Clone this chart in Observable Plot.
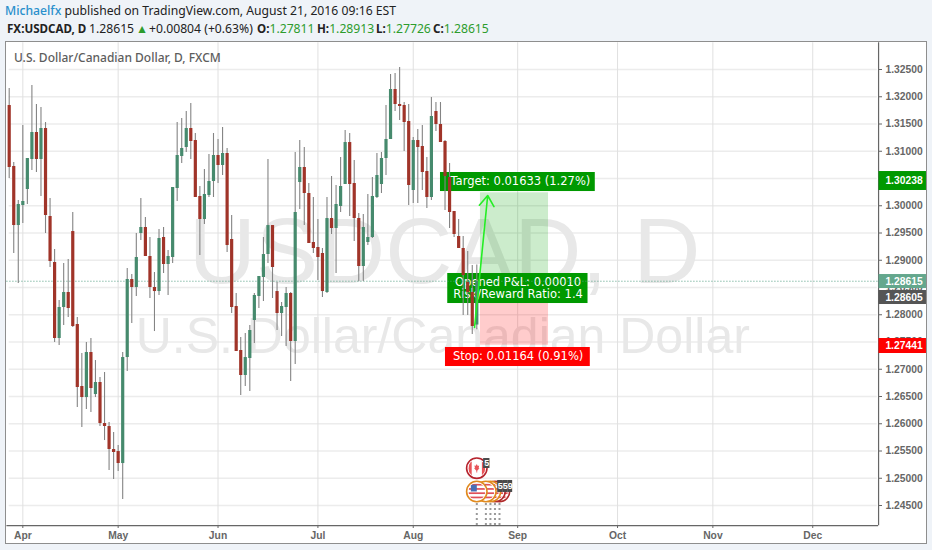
<!DOCTYPE html>
<html>
<head>
<meta charset="utf-8">
<script src="https://cdn.jsdelivr.net/npm/d3@7"></script>
<script src="https://cdn.jsdelivr.net/npm/@observablehq/plot@0.6"></script>
<style>
html,body{margin:0;padding:0;width:932px;height:550px;overflow:hidden;background:#eff3f8;font-family:"Noto Sans",sans-serif}
#panel{position:absolute;left:5px;top:41px;width:920px;height:501px;background:#fff;border:1.5px solid #8e8e8e;box-sizing:content-box}
#chart{position:absolute;left:0;top:0}
#chart svg{background:transparent!important}
.hd{position:absolute;white-space:nowrap;color:#222}
#l1{left:5px;top:1px;font-size:12.2px;line-height:20px}
#l1 b{font-weight:500;color:#2a90cc}
#l2 span{position:absolute;top:0;white-space:nowrap}
#l2{left:0;top:19px;font-size:12.2px;line-height:20px;width:900px;height:20px}
#l2 i{font-style:normal;color:#2d9c2d}
#l2 b{font-weight:700;font-size:11.6px}
#ttl{position:absolute;left:14px;top:49px;font-size:12px;line-height:18px;font-weight:500;color:#5d5d5d;white-space:nowrap}
</style>
</head>
<body>
<div id="panel"></div>
<div id="chart"></div>
<div class="hd" id="l1"><b>Michaelfx</b> published on TradingView.com, August 21, 2016 09:16 EST</div>
<div class="hd" id="l2">
<span style="left:7px"><b>FX:USDCAD, D</b></span>
<span style="left:89px">1.28615</span>
<span style="left:136px;color:#2d9c2d">▲</span>
<span style="left:149px">+0.00804 (+0.63%)</span>
<span style="left:257px"><b>O:</b><i>1.27811</i></span>
<span style="left:317px"><b>H:</b><i>1.28913</i></span>
<span style="left:376px"><b>L:</b><i>1.27726</i></span>
<span style="left:433px"><b>C:</b><i>1.28615</i></span>
</div>
<div id="ttl">U.S. Dollar/Canadian Dollar, D, FXCM</div>
<script>
const opens=[1.31839,1.30720,1.29637,1.30005,1.30298,1.30849,1.31344,1.30849,1.31417,1.29803,1.28959,1.27564,1.28133,1.28408,1.29527,1.27821,1.26683,1.26481,1.27307,1.26536,1.26757,1.26004,1.25949,1.25527,1.25490,1.25270,1.27215,1.28647,1.28500,1.29491,1.29601,1.29069,1.28500,1.28426,1.29417,1.28922,1.29050,1.30316,1.30904,1.31069,1.31417,1.31197,1.30170,1.29748,1.30188,1.30445,1.30922,1.30739,1.30959,1.29381,1.28151,1.27344,1.26885,1.27197,1.27894,1.28335,1.28683,1.29105,1.29637,1.28426,1.28023,1.28133,1.28390,1.27509,1.30426,1.30702,1.30225,1.29326,1.29234,1.29124,1.28408,1.29766,1.29583,1.29986,1.30390,1.31160,1.30408,1.29766,1.28885,1.29326,1.29417,1.30151,1.30390,1.30867,1.31216,1.32133,1.31858,1.31839,1.31546,1.30280,1.31197,1.31087,1.30629,1.30151,1.31729,1.31491,1.31179,1.30518,1.29894,1.29436,1.29216,1.28592,1.28408,1.27811];
const highs=[1.32151,1.30794,1.30096,1.31472,1.30867,1.32206,1.31858,1.31803,1.31527,1.30133,1.29197,1.28261,1.28940,1.29014,1.29876,1.27949,1.27289,1.27490,1.27564,1.27160,1.26848,1.26940,1.26023,1.25839,1.25600,1.27307,1.28848,1.28738,1.29491,1.30133,1.29784,1.29417,1.28775,1.29564,1.29601,1.29179,1.30335,1.31527,1.31601,1.31729,1.31876,1.31326,1.30353,1.30665,1.30940,1.31326,1.31216,1.31436,1.31050,1.29821,1.28390,1.27582,1.27656,1.27802,1.28390,1.28702,1.29417,1.30849,1.29637,1.28592,1.28225,1.28500,1.28408,1.30977,1.31197,1.31069,1.30408,1.30151,1.29748,1.29216,1.30151,1.30537,1.30371,1.30885,1.31381,1.31326,1.30830,1.29858,1.29839,1.30206,1.30518,1.30959,1.30977,1.31839,1.32408,1.32427,1.32537,1.31894,1.31858,1.31252,1.31399,1.31472,1.30885,1.31986,1.31894,1.31894,1.31197,1.30775,1.29894,1.29748,1.29436,1.29160,1.28904,1.28913];
const lows=[1.30500,1.29124,1.28573,1.29674,1.30023,1.30647,1.30610,1.30170,1.29491,1.28867,1.27490,1.27436,1.27802,1.27949,1.27766,1.26298,1.25931,1.26261,1.26206,1.26481,1.25949,1.25692,1.25142,1.24977,1.25123,1.24610,1.26959,1.27839,1.28335,1.29362,1.29069,1.28298,1.27692,1.28353,1.28757,1.28353,1.28940,1.30078,1.30775,1.30977,1.30849,1.30151,1.29087,1.29656,1.30151,1.30151,1.30408,1.30555,1.29142,1.28023,1.27326,1.26518,1.26683,1.26591,1.27472,1.28115,1.28243,1.28940,1.28298,1.27711,1.27601,1.27417,1.26775,1.27087,1.29931,1.29637,1.29307,1.29124,1.28628,1.28316,1.28390,1.29472,1.28757,1.29876,1.30390,1.29803,1.29344,1.28610,1.28610,1.29271,1.29399,1.30133,1.30225,1.30555,1.31216,1.31729,1.31564,1.30995,1.30005,1.30041,1.30041,1.30280,1.29950,1.30096,1.31362,1.31160,1.29913,1.29583,1.29417,1.29216,1.27986,1.27986,1.27637,1.27726];
const closes=[1.30702,1.29637,1.30023,1.30078,1.30867,1.31344,1.30849,1.31417,1.29821,1.28977,1.27564,1.28133,1.28408,1.28115,1.27784,1.26665,1.26481,1.27307,1.26646,1.26757,1.26004,1.25949,1.25527,1.25472,1.25270,1.27215,1.28647,1.28500,1.29050,1.29601,1.29069,1.28500,1.28426,1.29399,1.28922,1.29069,1.30335,1.30922,1.31050,1.31417,1.31179,1.30151,1.29748,1.30206,1.30445,1.30922,1.30739,1.30959,1.29271,1.28133,1.27326,1.26885,1.27215,1.27711,1.28353,1.28702,1.29105,1.29637,1.28867,1.28023,1.28151,1.28390,1.27509,1.29876,1.30702,1.30225,1.29307,1.29216,1.29050,1.28426,1.29766,1.29583,1.30023,1.30353,1.31160,1.30390,1.29766,1.28885,1.29601,1.29417,1.30170,1.30555,1.30867,1.31216,1.32133,1.31858,1.31821,1.31527,1.30371,1.31197,1.31069,1.30610,1.30151,1.31638,1.31491,1.31160,1.30537,1.29876,1.29472,1.29216,1.28720,1.28408,1.27784,1.28615];

const priceTicks=[1.245,1.25,1.255,1.26,1.265,1.27,1.275,1.28,1.285,1.29,1.295,1.30,1.305,1.31,1.315,1.32,1.325];
const monthBars=[3,24,46,68,89,112,134,155,177];
const monthLabels=["Apr","May","Jun","Jul","Aug","Sep","Oct","Nov","Dec"];

const bars=opens.map((o,i)=>({i,o,h:highs[i],l:lows[i],c:closes[i],up:closes[i]>=o}));

const RED="#a03429",GREEN="#468a6d",WICK="#848484";

const zones=[
 {x1:103.8,x2:118.8,y1:1.28605,y2:1.30238,fill:"#00a000"},
 {x1:103.8,x2:118.8,y1:1.27441,y2:1.28605,fill:"#ff0000"}
];
const labelBoxes=[
 {x1:95.0,x2:129.1,y1:1.30261,y2:1.30610,fill:"#009900"},
 {x1:96.6,x2:127.5,y1:1.28206,y2:1.28757,fill:"#009900"},
 {x1:96.1,x2:128.0,y1:1.27050,y2:1.27399,fill:"#ff0000"}
];
const labelTexts=[
 {x:112.6,y:1.30445,t:"Target: 0.01633 (1.27%)"},
 {x:112.1,y:1.28592,t:"Opened P&L: 0.00010"},
 {x:112.1,y:1.28371,t:"Risk/Reward Ratio: 1.4"},
 {x:112.1,y:1.27240,t:"Stop: 0.01164 (0.91%)"}
];
const arrowData=[{x1:102.5,y1:1.27766,x2:105.4,y2:1.30188}];
const tags=[
 {y1:1.30280,y2:1.30628,t:"1.30238",fill:"#009900",c:"#fff"},
 {y1:1.28481,y2:1.28738,t:"1.28615",fill:"#64a78d",c:"#fff"},
 {y1:1.28188,y2:1.28445,t:"1.28605",fill:"#555555",c:"#fff"},
 {y1:1.27289,y2:1.27564,t:"1.27441",fill:"#ff0000",c:"#fff"}
];
const watermark=[
 {x:95.9,y:1.29124,t:"USDCAD, D",size:93},
 {x:95.5,y:1.27600,t:"U.S. Dollar/Canadian Dollar",size:50}
];
const flagY=1.24757, canadaY=1.25184;
const events=[
 {x:108,stroke:"#b02a2a"},{x:107,stroke:"#b02a2a"},{x:106,stroke:"#e08a1e"},{x:105,stroke:"#e08a1e"},{x:103,stroke:"#e08a1e"}
];
const eventTags=[
 {x1:104.5,x2:105.9,y1:1.25179,y2:1.25362,t:"5"},
 {x1:109.8,x2:110.9,y1:1.24739,y2:1.24959,t:"9"},
 {x1:108.7,x2:109.8,y1:1.24739,y2:1.24959,t:"5"},
 {x1:107.6,x2:108.7,y1:1.24739,y2:1.24959,t:"5"}
];

const svgUri=s=>"data:image/svg+xml;utf8,"+encodeURIComponent(s);
const usFlag=svgUri('<svg xmlns="http://www.w3.org/2000/svg" viewBox="0 0 20 20"><rect width="20" height="20" fill="#fff"/><g fill="#e0505a"><rect y="1" width="20" height="2"/><rect y="6" width="20" height="2"/><rect y="11" width="20" height="2"/><rect y="16" width="20" height="2"/></g><rect x="3" y="2" width="7" height="8" fill="#4a6fb5"/></svg>');
const caFlag=svgUri('<svg xmlns="http://www.w3.org/2000/svg" viewBox="0 0 20 20"><rect width="20" height="20" fill="#fff"/><g fill="#e8555a"><rect width="4" height="20"/><rect x="16" width="4" height="20"/><path d="M10 5l1.2 2.4 1.6-.5-.6 3.1 1-.1L10.5 13v2h-1v-2L6.800 9.900l1-.1-.6-3.100 1.600.5z"/></g></svg>');

const flagMarks=events.flatMap(e=>[
 Plot.dot([e],{x:"x",y:()=>flagY,r:10.2,fill:"#fff",stroke:"stroke",strokeWidth:1.6}),
 Plot.image([e],{x:"x",y:()=>flagY,src:()=>usFlag,r:8.5})
]);

const plot=Plot.plot({
 width:932,height:550,
 marginTop:42,marginBottom:25,marginLeft:6,marginRight:54,
 x:{domain:[0,103],range:[8.7,476.3]},
 y:{domain:[1.245,1.325],range:[505,69]},
 style:{background:"transparent"},
 marks:[
  Plot.gridY(priceTicks,{stroke:"#ececec",strokeOpacity:1,strokeWidth:1.5,x1:0,x2:191.2}),
  Plot.gridX(monthBars,{stroke:"#e0e0e0",strokeOpacity:1,y1:1.2413,y2:1.3299}),
  Plot.text(watermark,{x:"x",y:"y",text:"t",fontSize:"size",fontFamily:"Liberation Sans",fill:"#e8e8e8",textAnchor:"middle",lineAnchor:"middle"}),
  Plot.axisY({anchor:"right",ticks:priceTicks,tickFormat:d=>d.toFixed(5),tickSize:3,tickPadding:4,label:null,fontSize:10.3,fontFamily:"Liberation Sans",fontWeight:"bold",color:"#666"}),
  Plot.axisX({anchor:"bottom",ticks:monthBars,tickFormat:d=>monthLabels[monthBars.indexOf(d)],tickSize:3,tickPadding:3,label:null,fontSize:10.3,fontFamily:"Liberation Sans",fontWeight:"bold",color:"#666"}),
  Plot.ruleX([191.5],{y1:1.2413,y2:1.3299,stroke:"#666",strokeWidth:1.2}),
  Plot.ruleY([1.2413],{x1:-0.5,x2:191.5,stroke:"#666",strokeWidth:1.2}),
  Plot.rect(zones,{x1:"x1",x2:"x2",y1:"y1",y2:"y2",fill:"fill",fillOpacity:0.2}),
  Plot.rect(labelBoxes,{x1:"x1",x2:"x2",y1:"y1",y2:"y2",fill:"fill"}),
  Plot.text(labelTexts,{x:"x",y:"y",text:"t",fill:"#fff",fontSize:11.5,fontFamily:"DejaVu Sans",textAnchor:"middle",lineAnchor:"middle"}),
  Plot.ruleY([1.28615],{x1:-0.5,x2:191.5,stroke:"#4f9c80",strokeWidth:1,strokeDasharray:"1 2"}),
  Plot.ruleX(bars,{x:"i",y1:"l",y2:"h",stroke:WICK,strokeWidth:1.1}),
  Plot.ruleX(bars,{x:"i",y1:"o",y2:"c",stroke:d=>d.up?GREEN:RED,strokeWidth:3.2}),
  Plot.arrow(arrowData,{x1:"x1",y1:"y1",x2:"x2",y2:"y2",stroke:"#25ee25",strokeWidth:1.6,headLength:12,headAngle:70,bend:0}),
  Plot.rect(tags,{x1:()=>191.6,x2:()=>202.05,y1:"y1",y2:"y2",fill:"fill"}),
  Plot.text(tags,{x:()=>197.1,y:d=>(d.y1+d.y2)/2,text:"t",fill:"c",fontSize:10.3,fontFamily:"Liberation Sans",fontWeight:"bold",textAnchor:"middle",lineAnchor:"middle"}),
  Plot.ruleX([103,105,106,107,108],{y1:1.24537,y2:1.24133,stroke:"#9a9a9a",strokeWidth:2,strokeDasharray:"2 3"}),
  Plot.dot([{x:103}],{x:"x",y:()=>canadaY,r:10.2,fill:"#fff",stroke:"#b5232d",strokeWidth:1.6}),
  Plot.image([{x:103}],{x:"x",y:()=>canadaY,src:()=>caFlag,r:8.5}),
  ...flagMarks,
  Plot.rect(eventTags,{x1:"x1",x2:"x2",y1:"y1",y2:"y2",fill:"#4a4a4a"}),
  Plot.text(eventTags,{x:d=>(d.x1+d.x2)/2,y:d=>(d.y1+d.y2)/2,text:"t",fill:"#fff",fontSize:9,fontFamily:"Liberation Sans",fontWeight:"bold",textAnchor:"middle",lineAnchor:"middle"})
 ]
});
document.getElementById("chart").appendChild(plot);
</script>
</body>
</html>
